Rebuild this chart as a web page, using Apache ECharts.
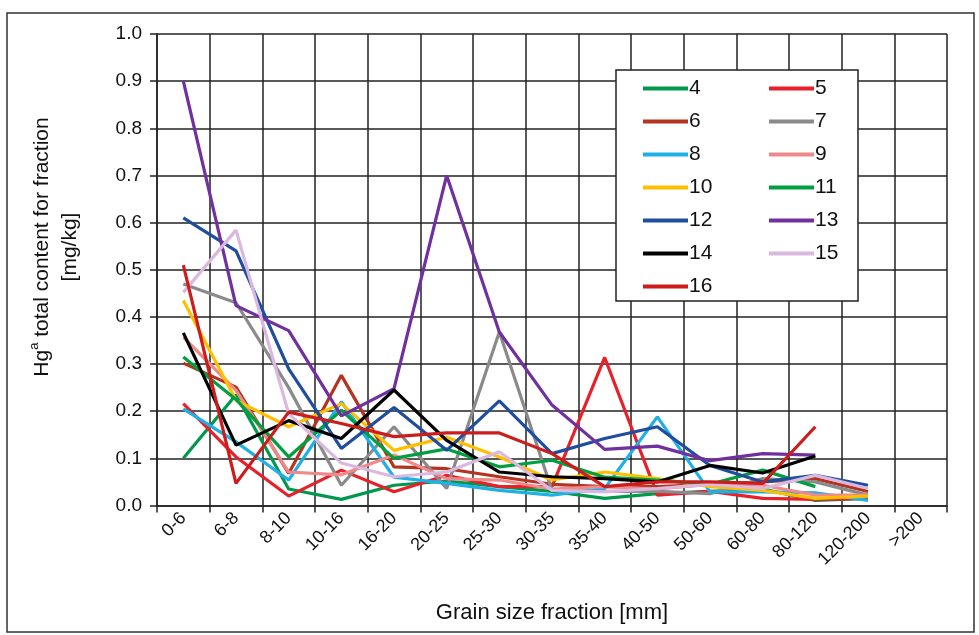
<!DOCTYPE html>
<html>
<head>
<meta charset="utf-8">
<script src="https://cdn.jsdelivr.net/npm/echarts@6/dist/echarts.min.js"></script>
<style>
html,body{margin:0;padding:0;background:#fff;}
#chart{width:979px;height:635px;}
</style>
</head>
<body>
<div id="chart"></div>
<script>
const categories = ['0-6','6-8','8-10','10-16','16-20','20-25','25-30','30-35','35-40','40-50','50-60','60-80','80-120','120-200','>200'];
const yTicks = [0,0.1,0.2,0.3,0.4,0.5,0.6,0.7,0.8,0.9,1.0];

const s4  = [0.100,0.235,0.035,0.013,0.043,0.052,0.040,0.030,0.015,0.025,0.030,0.035,0.011,0.015,null];
const s5  = [0.216,0.103,0.020,0.075,0.029,0.064,0.040,0.040,0.314,0.022,0.030,0.015,0.013,0.015,null];
const s6  = [0.302,0.251,0.068,0.276,0.082,0.078,0.061,0.045,0.040,0.040,0.045,0.050,0.057,0.030,null];
const s7  = [0.470,0.430,0.250,0.043,0.167,0.036,0.368,0.032,0.030,0.030,0.025,0.057,0.050,0.022,null];
const s8  = [0.205,0.135,0.054,0.220,0.060,0.047,0.032,0.022,0.036,0.188,0.029,0.029,0.027,0.011,null];
const s9  = [0.357,0.244,0.071,0.065,0.107,0.057,0.054,0.035,0.040,0.035,0.045,0.043,0.022,0.022,null];
const s10 = [0.435,0.223,0.167,0.216,0.117,0.145,0.103,0.054,0.071,0.057,0.040,0.032,0.015,0.020,null];
const s11 = [0.315,0.225,0.103,0.202,0.100,0.120,0.082,0.096,0.060,0.054,0.045,0.075,0.040,null,null];
const s12 = [0.610,0.540,0.290,0.121,0.208,0.117,0.222,0.110,0.142,0.167,0.085,0.050,0.064,0.043,null];
const s13 = [0.900,0.424,0.371,0.190,0.248,0.700,0.368,0.213,0.119,0.126,0.095,0.110,0.107,null,null];
const s14 = [0.366,0.128,0.180,0.142,0.245,0.138,0.071,0.061,0.057,0.050,0.085,0.069,0.105,null,null];
const s15 = [0.452,0.584,0.195,0.090,0.061,0.071,0.114,0.032,0.029,0.036,0.045,0.036,0.064,0.036,null];
const s16 = [0.510,0.047,0.198,0.174,0.146,0.154,0.154,0.110,0.040,0.050,0.050,0.047,0.167,null,null];

const seriesDefs = [
  ['4', s4, '#00994c'],
  ['5', s5, '#e8202a'],
  ['6', s6, '#b5341f'],
  ['7', s7, '#8a8a8a'],
  ['8', s8, '#1eb0e6'],
  ['9', s9, '#f08a8a'],
  ['10', s10, '#ffbf00'],
  ['11', s11, '#00a040'],
  ['12', s12, '#1f4e9e'],
  ['13', s13, '#7030a0'],
  ['14', s14, '#000000'],
  ['15', s15, '#dbb8e0'],
  ['16', s16, '#cc1c1c']
];

const chart = echarts.init(document.getElementById('chart'), null, {renderer:'canvas'});
const font = 'Liberation Sans, Arial, sans-serif';

const legendCommon = {
  orient: 'vertical',
  icon: 'rect',
  itemWidth: 45,
  itemHeight: 4,
  itemGap: 12,
  z: 10,
  textStyle: {fontSize: 21, color: '#111', fontFamily: font, padding: [0,0,0,-4]},
  inactiveColor: '#ccc'
};

chart.setOption({
  animation: false,
  backgroundColor: '#fff',
  grid: {left: 157, right: 32, top: 34, bottom: 129.5, show: false},
  legend: [
    Object.assign({}, legendCommon, {data: ['4','6','8','10','12','14','16'], left: 638, top: 73}),
    Object.assign({}, legendCommon, {data: ['5','7','9','11','13','15'], left: 764, top: 73})
  ],
  graphic: [
    {type: 'rect', z: 6, shape: {x: 616, y: 70, width: 242, height: 231},
     style: {fill: '#fff', stroke: '#222', lineWidth: 1.5}},
    {type: 'rect', z: 1, silent: true, shape: {x: 7, y: 13, width: 967, height: 619},
     style: {fill: 'none', stroke: '#333', lineWidth: 1.5}},
    {type: 'text', z: 5, x: 56, y: 247, rotation: Math.PI / 2,
     style: {
       text: 'Hg{sup|a} total content for fraction\n[mg/kg]',
       align: 'center', verticalAlign: 'middle',
       fontSize: 21, fontFamily: font, fill: '#111', lineHeight: 28,
       rich: {sup: {fontSize: 13, fontFamily: font, fill: '#111', verticalAlign: 'top', lineHeight: 28, padding: [0,0,9,0]}}
     }}
  ],
  xAxis: {
    type: 'category',
    data: categories,
    boundaryGap: true,
    axisLine: {show: true, lineStyle: {color: '#222', width: 1.5}},
    axisTick: {show: true, inside: false, length: 7, alignWithLabel: false, lineStyle: {color: '#222', width: 1.5}},
    splitLine: {show: true, lineStyle: {color: '#222', width: 1.5}},
    axisLabel: {rotate: 45, fontSize: 18, color: '#111', fontFamily: font, margin: 10, interval: 0},
    name: 'Grain size fraction [mm]',
    nameLocation: 'middle',
    nameGap: 96,
    nameTextStyle: {fontSize: 22, color: '#111', fontFamily: font}
  },
  yAxis: {
    type: 'value',
    min: 0, max: 1, interval: 0.1,
    axisLine: {show: true, lineStyle: {color: '#222', width: 1.5}},
    axisTick: {show: true, inside: false, length: 7, lineStyle: {color: '#222', width: 1.5}},
    splitLine: {show: true, lineStyle: {color: '#222', width: 1.5}},
    axisLabel: {fontSize: 19, color: '#111', fontFamily: font, margin: 15,
      formatter: v => yTicks.indexOf(Math.round(v*10)/10) >= 0 ? v.toFixed(1) : ''}
  },
  series: seriesDefs.map(([name, data, color]) => ({
    name: name,
    type: 'line',
    data: data,
    symbol: 'none',
    connectNulls: false,
    lineStyle: {color: color, width: 3.2},
    itemStyle: {color: color},
    z: 3
  }))
});
</script>
</body>
</html>
